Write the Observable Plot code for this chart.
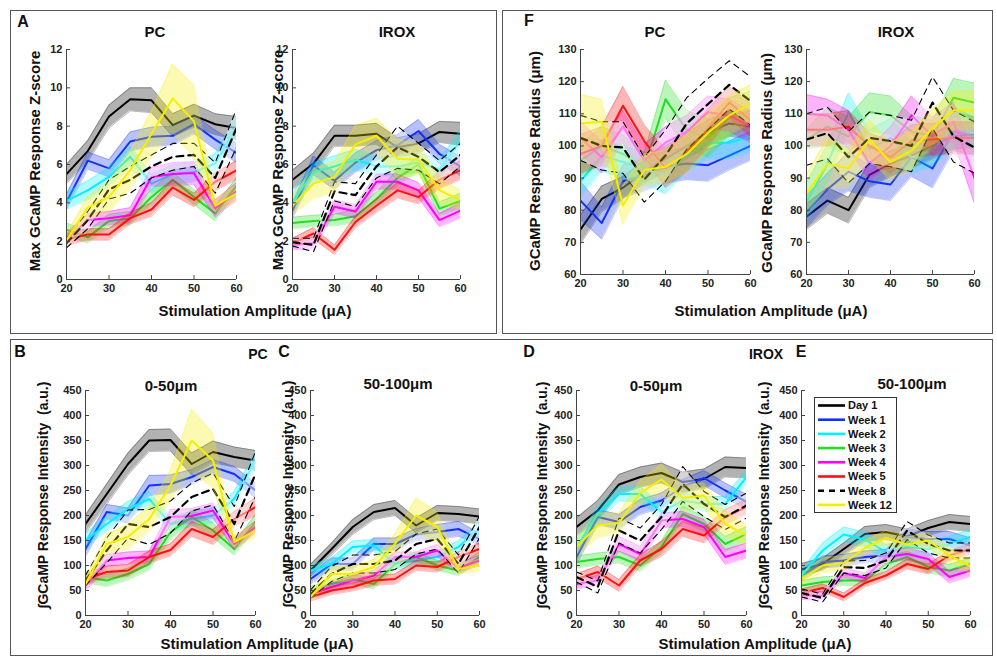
<!DOCTYPE html>
<html><head><meta charset="utf-8">
<script src="https://cdn.jsdelivr.net/npm/d3@7"></script>
<script src="https://cdn.jsdelivr.net/npm/@observablehq/plot@0.6"></script>
<style>
body{margin:0;background:#fff;}
#root{position:relative;width:997px;height:659px;overflow:hidden;font-family:"Liberation Sans",Arial,sans-serif;font-weight:bold;color:#111;}
.box{position:absolute;border:1.5px solid #555;box-sizing:border-box;}
.t{position:absolute;white-space:pre;transform:translate(-50%,-50%);line-height:1;}
.yl{position:absolute;white-space:pre;transform:translate(-50%,-50%) rotate(-90deg);line-height:1;}
</style></head><body><div id="root"></div><script>
const amps = [20,25,30,35,40,45,50,55,60];
const xTicks = [20,30,40,50,60];
const series = ["Day 1","Week 1","Week 2","Week 3","Week 4","Week 5","Week 8","Week 12"];
const colors = ["#000000","#1233f5","#00f0ff","#22dd22","#ff00ff","#ff1010","#000000","#f5ee00"];
const zTicks = [0,2,4,6,8,10,12];
const rTicks = [60,70,80,90,100,110,120,130];
const iTicks = [0,50,100,150,200,250,300,350,400,450];

const A_PC_mean = [
 [5.5,6.7,8.5,9.4,9.35,8.05,8.55,8.1,7.9],
 [4.05,6.2,5.8,7.2,7.45,7.5,8.1,7.3,6.6],
 [4.1,4.65,5.35,6.4,5.0,5.5,5.6,6.05,8.0],
 [2.6,2.2,3.05,3.2,4.3,5.2,4.3,3.45,4.9],
 [2.05,3.1,3.2,3.35,5.35,5.5,5.55,3.7,4.6],
 [2.1,2.35,2.35,3.2,3.65,4.8,4.15,5.1,5.7],
 [1.9,3.1,4.7,5.2,5.9,6.4,6.5,5.3,7.9],
 [2.05,3.75,4.3,5.7,7.6,9.45,8.25,3.85,4.5]];
const A_PC_err = [
 [0.5,0.55,0.6,0.6,0.65,0.6,0.6,0.55,0.6],
 [0.4,0.45,0.45,0.5,0.5,0.5,0.5,0.5,0.5],
 [0.45,0.5,0.5,0.55,0.5,0.5,0.5,0.5,0.6],
 [0.35,0.3,0.35,0.35,0.4,0.4,0.4,0.4,0.4],
 [0.35,0.35,0.35,0.4,0.5,0.6,0.6,0.45,0.45],
 [0.3,0.3,0.3,0.3,0.35,0.4,0.35,0.45,0.5],
 [0.25,0.45,0.5,0.7,0.6,0.7,0.6,0.8,1.0],
 [0.3,0.6,0.8,1.0,1.2,1.8,1.9,0.35,0.45]];
const A_IROX_mean = [
 [5.2,6.05,7.5,7.5,7.6,6.9,7.1,7.7,7.6],
 [3.6,5.95,5.15,6.1,6.75,7.0,7.75,6.55,5.9],
 [4.05,5.6,5.9,6.25,5.9,5.9,6.1,5.75,7.2],
 [2.95,3.05,3.1,3.3,4.2,5.3,6.0,3.7,4.1],
 [1.8,1.9,3.8,3.55,5.1,5.1,4.65,3.1,3.6],
 [1.9,2.4,1.55,3.0,3.85,4.65,4.3,5.2,5.7],
 [1.95,1.8,4.6,4.4,5.9,6.9,6.4,5.6,6.5],
 [3.85,5.0,5.35,7.05,7.5,6.3,6.25,4.65,4.15]];
const A_IROX_err = [
 [0.5,0.55,0.55,0.55,0.55,0.5,0.5,0.55,0.6],
 [0.4,0.5,0.45,0.5,0.5,0.55,0.6,0.5,0.5],
 [0.45,0.5,0.55,0.55,0.5,0.5,0.5,0.5,0.6],
 [0.3,0.3,0.3,0.35,0.35,0.4,0.4,0.35,0.4],
 [0.25,0.3,0.35,0.35,0.4,0.4,0.4,0.35,0.4],
 [0.25,0.3,0.25,0.3,0.35,0.4,0.35,0.45,0.5],
 [0.2,0.35,0.5,0.6,0.6,1.1,0.7,0.6,0.6],
 [0.5,0.8,0.8,1.0,0.9,1.0,0.8,0.7,0.5]];
const F_PC_mean = [
 [74,83.5,87,92,96,100,104,107,106],
 [83,76,89,91,93.5,94.5,94,97,100],
 [89,97,95,93,91,97,101,101,103],
 [95.5,100,97.5,93,114.5,105,102.5,109,111],
 [102.5,96.5,106,95.5,101,104.5,110.5,109.5,106],
 [97.5,100,112.5,101.5,93,98,105.5,113.5,108],
 [102.5,100,99.5,89.5,97,107,113,119,114],
 [107,107.5,81.5,92.5,93.5,97.5,104,109.5,113]];
const F_PC_err = [
 [4.5,4,3.5,3.5,4,4,4,4,4],
 [6,5,5,5,5,5,5,4.5,4.5],
 [5,5,5,5,6,5,5,5,5],
 [5,6,6,5,6,6,6,6,6],
 [5,5,5,5,5,5,5,5,5],
 [6,6,6,5,6,6,6,5,5],
 [7,7.5,8,7,8,8,8,7.5,7.5],
 [9,7,6,5,5,6,6,6,6]];
const F_IROX_mean = [
 [78,83,80,91,94.5,97,100,103,103.5],
 [79.5,86.5,92,89,88,96.5,93,104.5,103],
 [82.5,94.5,110.5,99,102.5,96.5,98.5,106,104],
 [102,106,103,110.5,109.5,104.5,103,115,113.5],
 [110,109.5,105,94.5,100,109.5,103,107.5,90],
 [105,105,106,100,96.5,101.5,102,102.5,102.5],
 [102,104,96.5,102.5,101.5,100,113.5,103,99.5],
 [85,94.5,93,102,95,98.5,105.5,111,111]];
const F_IROX_err = [
 [4,4,4,4,4,4,4,4,4],
 [5,5,6,5,5,6,6,6,6],
 [6,6,6,6,6,5,5,6,5],
 [3,6,6,6,6,5,5,6,6],
 [6,5,6,5,6,6,6,6,8],
 [5,5,5,4,5,5,5,5,5],
 [8,8,8,8,8,8,8,8,8],
 [6,8,6,6,6,6,6,6,6]];
const B_mean = [
 [183,243,303,350,351,303,327,317,310],
 [133,207,200,260,263,277,297,283,250],
 [150,183,213,233,183,193,200,233,310],
 [77,70,83,103,167,197,170,133,187],
 [60,110,115,117,197,199,210,143,177],
 [73,87,90,117,131,173,157,193,217],
 [70,130,183,177,197,237,253,183,283],
 [63,143,157,193,260,350,310,147,170]];
const B_err = [
 [18,20,22,22,22,22,22,20,20],
 [15,15,15,20,18,15,15,15,15],
 [15,15,15,15,15,15,15,15,18],
 [12,12,12,12,15,15,15,12,15],
 [12,12,12,12,15,15,15,12,12],
 [10,12,12,12,12,15,15,15,18],
 [10,25,28,35,32,28,32,35,45],
 [10,20,25,25,30,63,55,12,15]];
const C_mean = [
 [90,133,177,207,215,180,205,203,198],
 [73,103,103,143,143,162,167,173,153],
 [90,103,137,140,103,110,117,137,173],
 [50,63,73,63,103,117,100,90,117],
 [43,57,70,80,117,117,130,95,110],
 [37,50,57,70,73,100,97,117,133],
 [43,83,103,103,110,143,153,103,177],
 [37,83,83,97,143,200,177,93,100]];
const C_err = [
 [12,12,15,15,15,15,15,15,15],
 [10,12,12,12,12,12,15,15,12],
 [10,12,12,12,12,12,12,12,15],
 [8,8,10,10,10,10,10,10,10],
 [8,8,10,10,10,10,12,10,10],
 [8,8,8,10,10,10,10,10,12],
 [8,15,18,18,18,20,20,18,22],
 [8,15,15,15,20,35,30,10,12]];
const D_mean = [
 [177,210,262,277,285,267,273,297,295],
 [117,197,187,217,230,257,275,250,227],
 [137,203,243,243,207,230,223,223,277],
 [107,113,117,100,137,203,183,143,163],
 [63,70,143,123,190,193,177,117,130],
 [73,87,60,110,133,173,160,197,217],
 [77,57,170,150,197,263,223,197,220],
 [137,180,185,245,272,235,240,183,160]];
const D_err = [
 [18,20,20,20,20,20,20,20,20],
 [15,15,15,15,15,15,15,15,15],
 [15,15,15,15,15,15,15,15,15],
 [12,12,12,12,12,15,15,15,15],
 [10,10,15,15,15,15,15,15,15],
 [10,12,12,12,15,15,15,15,15],
 [10,12,25,25,25,35,25,25,25],
 [20,25,20,25,30,25,25,25,20]];
const E_mean = [
 [92,103,133,163,167,158,175,187,183],
 [80,107,110,117,120,157,153,153,140],
 [80,130,162,152,127,137,133,143,157],
 [60,67,70,70,103,117,97,90,103],
 [40,40,85,75,117,123,113,77,90],
 [45,55,37,65,80,103,93,120,133],
 [45,35,97,95,110,170,143,130,130],
 [73,100,105,135,155,142,150,120,98]];
const E_err = [
 [12,12,12,15,15,15,15,15,15],
 [10,12,12,12,12,15,15,15,15],
 [10,15,15,15,15,15,15,15,15],
 [10,10,10,10,12,12,12,12,12],
 [8,8,10,10,10,12,12,12,12],
 [8,8,8,8,8,10,10,10,10],
 [8,8,12,15,15,18,18,15,15],
 [12,15,15,15,15,15,15,15,15]];

const root = document.getElementById("root");
const FONT = '"Liberation Sans", Arial, sans-serif';

function addBox(l,t,w,h){const d=document.createElement("div");d.className="box";Object.assign(d.style,{left:l+"px",top:t+"px",width:w+"px",height:h+"px"});root.appendChild(d);}
function addText(txt,cx,cy,size,cls="t"){const d=document.createElement("div");d.className=cls;d.textContent=txt;Object.assign(d.style,{left:cx+"px",top:cy+"px",fontSize:size+"px"});root.appendChild(d);}

addBox(10,10,487,324);
addBox(502,10,491,324);
addBox(10,339,983,317);

function drawPanel(x0,x1,y0,y1,domain,ticks,mean,err){
  const mL=34,mR=10,mT=8,mB=24;
  const marks=[];
  series.forEach((s,i)=>{
    const d=amps.map((a,j)=>({x:a,y:mean[i][j],lo:mean[i][j]-err[i][j],hi:mean[i][j]+err[i][j]}));
    const c=colors[i];
    if(s==="Week 8"){
      marks.push(Plot.areaY(d,{x:"x",y1:"lo",y2:"hi",fill:"#fff",fillOpacity:0.45,clip:true}));
      marks.push(Plot.line(d,{x:"x",y:"hi",stroke:c,strokeWidth:1.1,strokeDasharray:"6,5",clip:true}));
      marks.push(Plot.line(d,{x:"x",y:"lo",stroke:c,strokeWidth:1.1,strokeDasharray:"6,5",clip:true}));
      marks.push(Plot.line(d,{x:"x",y:"y",stroke:c,strokeWidth:2.2,strokeDasharray:"7,5",clip:true}));
    } else {
      marks.push(Plot.areaY(d,{x:"x",y1:"lo",y2:"hi",fill:c,fillOpacity:0.3,clip:true}));
      marks.push(Plot.line(d,{x:"x",y:"hi",stroke:c,strokeOpacity:0.35,strokeWidth:0.8,clip:true}));
      marks.push(Plot.line(d,{x:"x",y:"lo",stroke:c,strokeOpacity:0.35,strokeWidth:0.8,clip:true}));
      marks.push(Plot.line(d,{x:"x",y:"y",stroke:c,strokeWidth:2,clip:true}));
    }
  });
  const svg=Plot.plot({
    width:x1-x0+mL+mR,height:y1-y0+mT+mB,
    marginLeft:mL,marginRight:mR,marginTop:mT,marginBottom:mB,
    x:{domain:[20,60]},y:{domain},
    style:{fontFamily:FONT,fontSize:"11px",fontWeight:"bold",color:"#222",background:"transparent",overflow:"visible"},
    marks:[...marks,
      Plot.ruleX([20],{stroke:"#444",strokeWidth:1}),
      Plot.ruleY([domain[0]],{stroke:"#444",strokeWidth:1}),
      Plot.axisX({ticks:xTicks,tickSize:-4,tickPadding:9,label:null,tickFormat:d=>String(d),stroke:"#444"}),
      Plot.axisY({ticks,tickSize:-4,tickPadding:8,label:null,tickFormat:d=>String(d),stroke:"#444"})
    ]
  });
  Object.assign(svg.style,{position:"absolute",left:(x0-mL)+"px",top:(y0-mT)+"px"});
  root.appendChild(svg);
}

drawPanel(66,236,49,279,[0,12],zTicks,A_PC_mean,A_PC_err);
drawPanel(292,460,49,279,[0,12],zTicks,A_IROX_mean,A_IROX_err);
drawPanel(580,750,49,274,[60,130],rTicks,F_PC_mean,F_PC_err);
drawPanel(806,974,49,274,[60,130],rTicks,F_IROX_mean,F_IROX_err);
drawPanel(85,255,390,615,[0,450],iTicks,B_mean,B_err);
drawPanel(310,479,390,615,[0,450],iTicks,C_mean,C_err);
drawPanel(576,746,390,615,[0,450],iTicks,D_mean,D_err);
drawPanel(801,970,390,615,[0,450],iTicks,E_mean,E_err);

// panel letters and group labels
addText("A",23,22,16); addText("F",529,21,16);
addText("B",20,352,16); addText("C",284,352,16); addText("D",529,352,16); addText("E",801,352,16);
addText("PC",258,354,14); addText("IROX",766,354,14);
// titles
addText("PC",155,31,15); addText("IROX",397,31,15);
addText("PC",655,31,15); addText("IROX",896,31,15);
addText("0-50μm",171,385,15); addText("50-100μm",398,383,15);
addText("0-50μm",656,385,15); addText("50-100μm",912,383,15);
// axis labels
const xl="Stimulation Amplitude (μA)";
addText(xl,255,310,15); addText(xl,771,310,15); addText(xl,257,643,15); addText(xl,755,643,15);
const zl="Max GCaMP Response Z-score", rl="GCaMP Response Radius (μm)", il="∫GCaMP Response Intensity  (a.u.)";
addText(zl,34,161,15,"yl"); addText(zl,277,160,15,"yl");
addText(rl,534,161,15,"yl"); addText(rl,766,163,15,"yl");
addText(il,43,495,14,"yl"); addText(il,288,494,14,"yl"); addText(il,542,495,14,"yl"); addText(il,764,495,14,"yl");

// legend
const lg=d3.create("svg").attr("width",83).attr("height",116)
  .style("position","absolute").style("left","814px").style("top","397px");
lg.append("rect").attr("x",0.5).attr("y",0.5).attr("width",82).attr("height",115).attr("fill","#fff").attr("stroke","#333");
series.forEach((s,i)=>{
  const y=8.5+i*14.2;
  lg.append("line").attr("x1",4).attr("x2",31).attr("y1",y).attr("y2",y).attr("stroke",colors[i]).attr("stroke-width",2.6)
    .attr("stroke-dasharray",s==="Week 8"?"6,5":null);
  lg.append("text").attr("x",34).attr("y",y).attr("dy","0.36em").attr("font-family",FONT).attr("font-weight","bold").attr("font-size",11).attr("fill","#111").text(s);
});
root.appendChild(lg.node());
</script></body></html>
